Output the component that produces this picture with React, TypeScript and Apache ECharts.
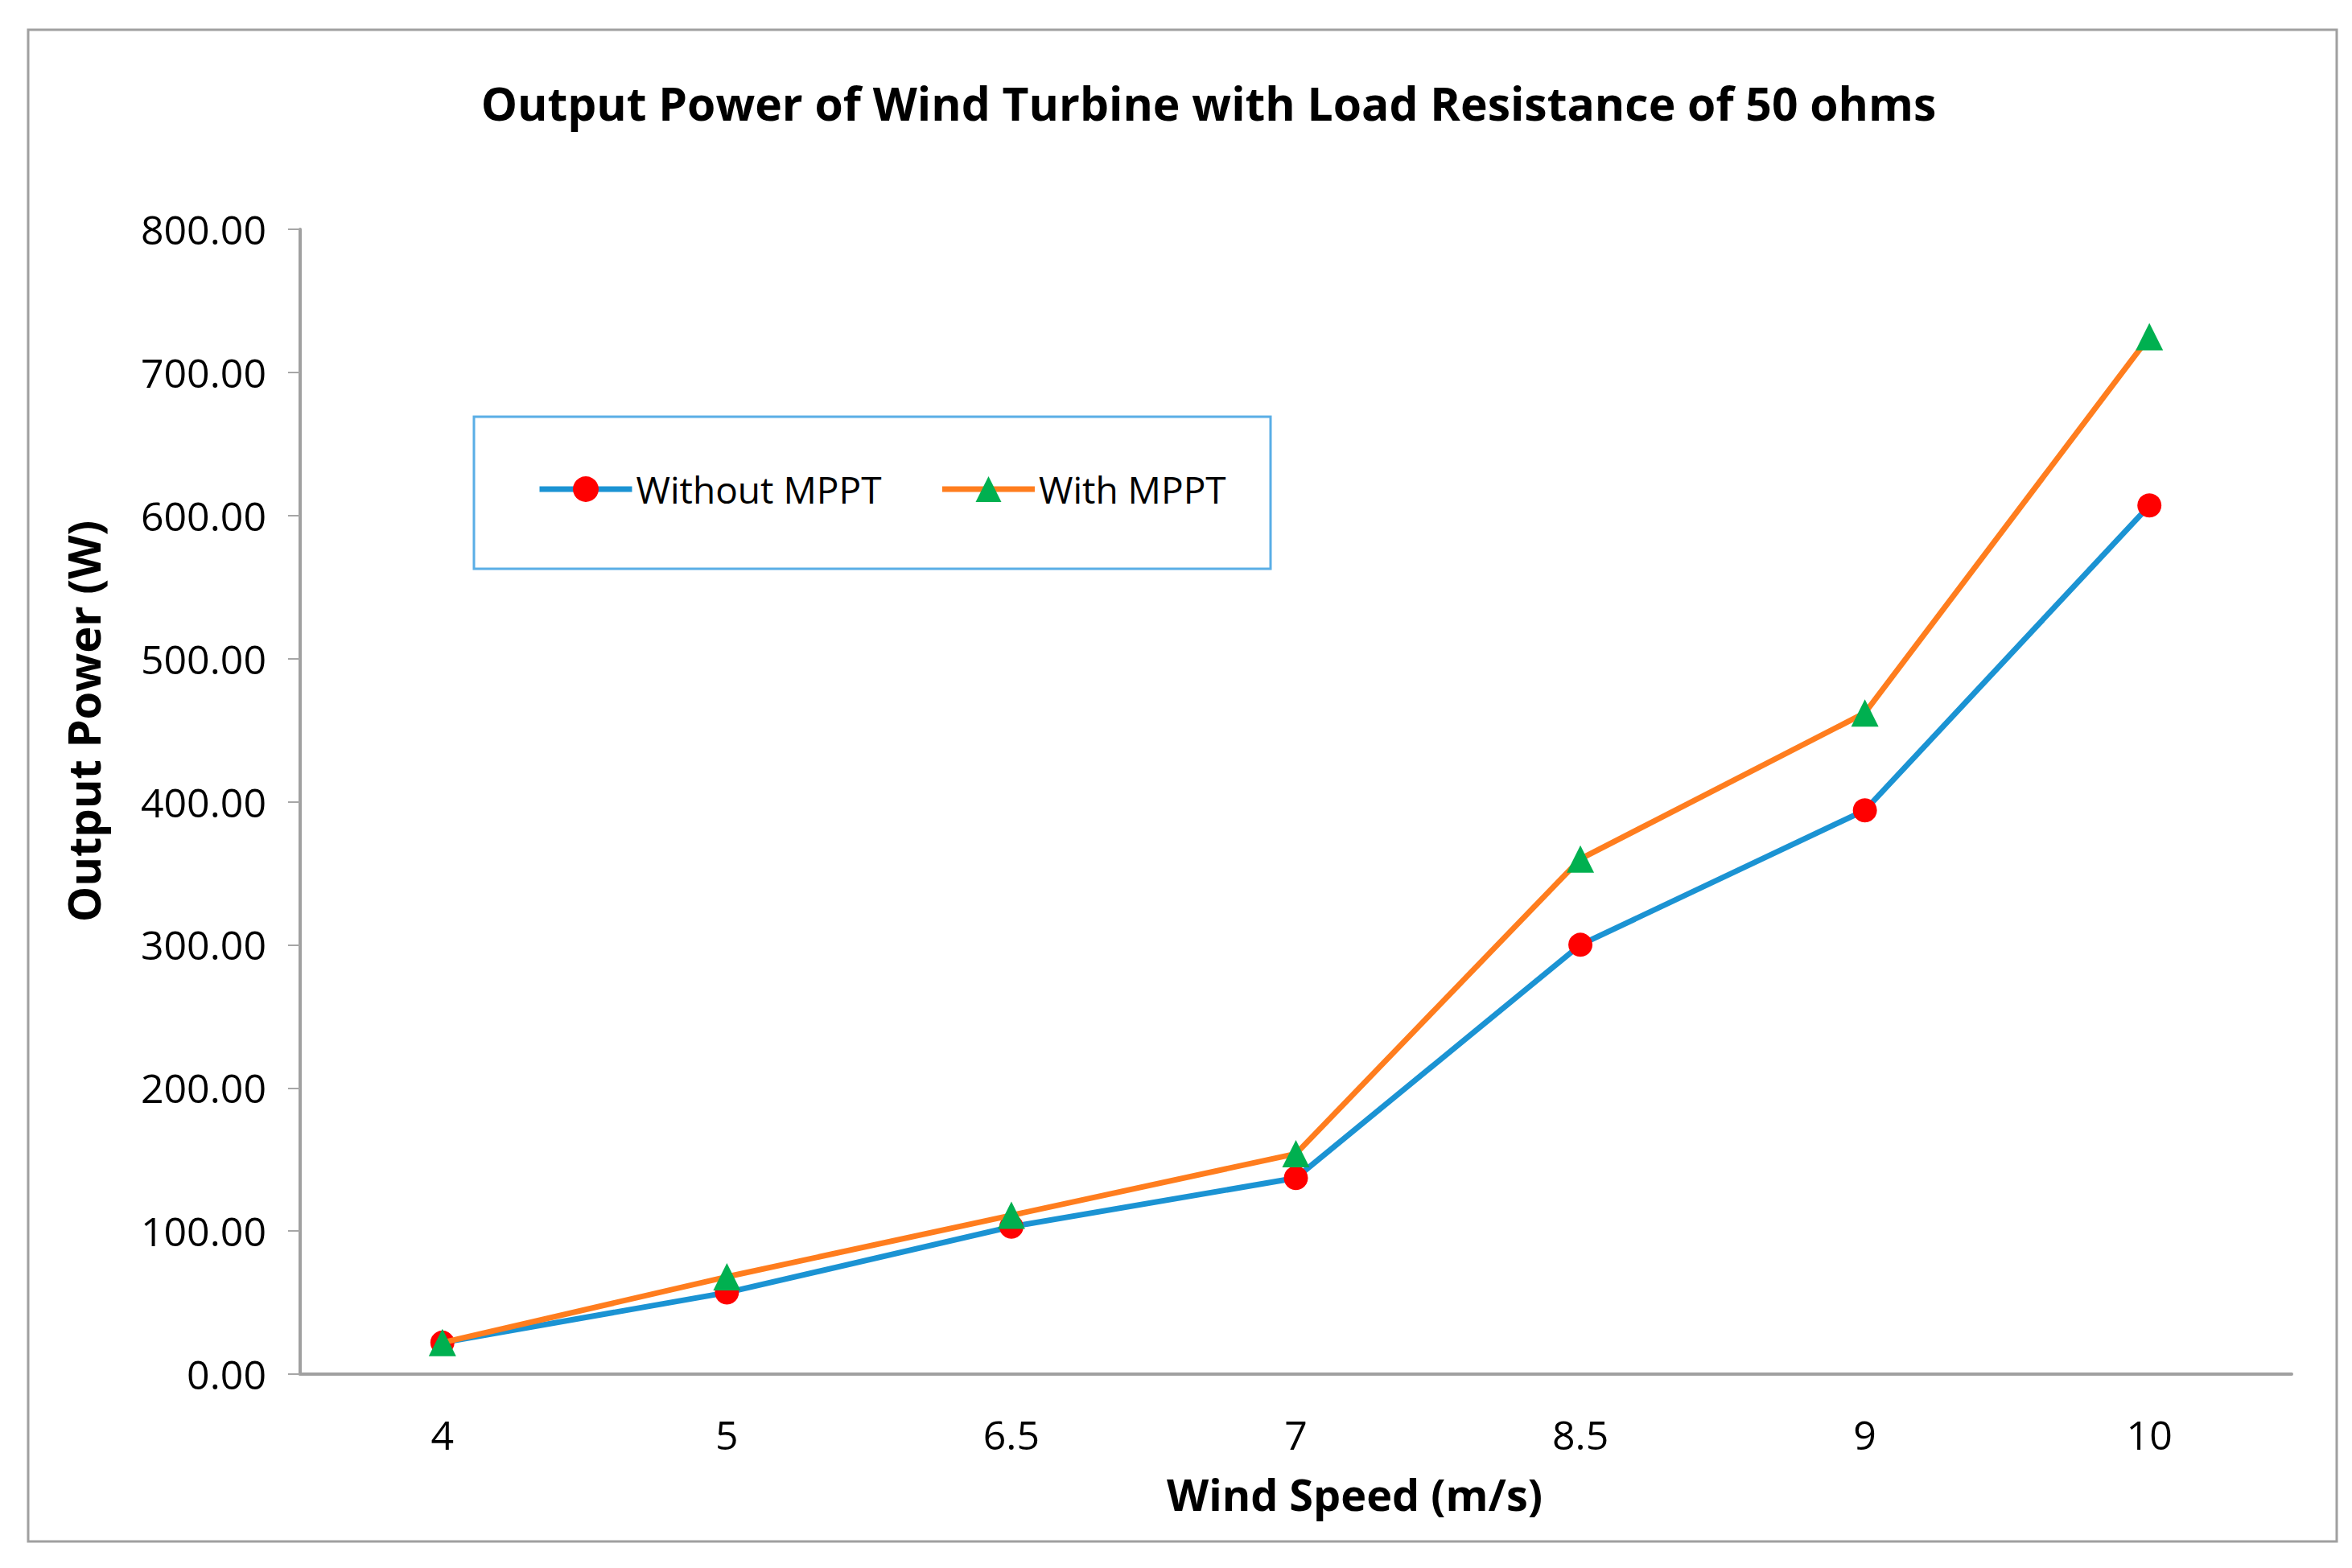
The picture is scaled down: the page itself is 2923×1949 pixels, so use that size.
import React, { useEffect, useRef } from "react";
import * as echarts from "echarts";

const categories = ["4", "5", "6.5", "7", "8.5", "9", "10"];
const withoutMppt = [22, 57, 103, 137, 300, 394, 607];
const withMppt = [22, 68, 111, 154, 360, 462, 725];
const yTicks = { min: 0, max: 800, interval: 100 };

const FONT = "'Open Sans', 'Noto Sans', sans-serif";

export default function App() {
  const ref = useRef<HTMLDivElement>(null);
  useEffect(() => {
    document.body.style.margin = "0";
    const chart = echarts.init(ref.current!, null, { renderer: "svg" });
    chart.setOption({
      animation: false,
      backgroundColor: "#ffffff",
      title: {
        text: "Output Power of Wind Turbine with Load Resistance of 50 ohms",
        left: 1497,
        top: 94,
        textAlign: "center",
        textStyle: { fontFamily: FONT, fontSize: 57, fontWeight: "bold", color: "#000" },
      },
      graphic: [
        {
          type: "rect",
          shape: { x: 35, y: 37, width: 2869, height: 1879 },
          style: { fill: "none", stroke: "#a0a0a0", lineWidth: 3 },
          z: -1,
        },
        {
          type: "rect",
          shape: { x: 589, y: 518, width: 990, height: 189 },
          style: { fill: "#fff", stroke: "#5aaee6", lineWidth: 3 },
          z: 5,
        },
      ],
      legend: {
        left: 662,
        top: 580,
        itemWidth: 115,
        itemHeight: 40,
        itemGap: 72,
        z: 10,
        lineStyle: { width: 7 },
        textStyle: { fontFamily: FONT, fontSize: 46, color: "#000", padding: [0, 0, 0, 0] },
        data: ["Without MPPT", "With MPPT"],
      },
      grid: { left: 373, right: 75, top: 285, bottom: 241, containLabel: false },
      xAxis: {
        type: "category",
        data: categories,
        boundaryGap: true,
        axisLine: { lineStyle: { color: "#a0a0a0", width: 4 } },
        axisTick: { show: false },
        axisLabel: { fontFamily: FONT, fontSize: 50, color: "#000", margin: 50 },
        name: "Wind Speed (m/s)",
        nameLocation: "middle",
        nameGap: 122,
        nameTextStyle: { fontFamily: FONT, fontSize: 54, fontWeight: "bold", color: "#000", padding: [0, 0, 0, 146] },
      },
      yAxis: {
        type: "value",
        min: yTicks.min,
        max: yTicks.max,
        interval: yTicks.interval,
        splitLine: { show: false },
        axisLine: { show: true, lineStyle: { color: "#a0a0a0", width: 4 } },
        axisTick: { show: true, length: 15, lineStyle: { color: "#a6a6a6", width: 2 } },
        axisLabel: {
          fontFamily: FONT,
          fontSize: 50,
          color: "#000",
          margin: 42,
          formatter: (v: number) => v.toFixed(2),
        },
        name: "Output Power (W)",
        nameLocation: "middle",
        nameGap: 242,
        nameTextStyle: { fontFamily: FONT, fontSize: 56, fontWeight: "bold", color: "#000", padding: [0, 0, 0, 200] },
      },
      series: [
        {
          name: "Without MPPT",
          type: "line",
          data: withoutMppt,
          symbol: "circle",
          symbolSize: 30,
          lineStyle: { color: "#1b93d3", width: 7 },
          itemStyle: { color: "#ff0000" },
          z: 3,
        },
        {
          name: "With MPPT",
          type: "line",
          data: withMppt,
          symbol: "triangle",
          symbolSize: [34, 34],
          lineStyle: { color: "#ff7d1e", width: 7 },
          itemStyle: { color: "#00b050" },
          z: 4,
        },
      ],
    });
    return () => chart.dispose();
  }, []);
  return <div ref={ref} style={{ width: 2923, height: 1949 }} />;
}
